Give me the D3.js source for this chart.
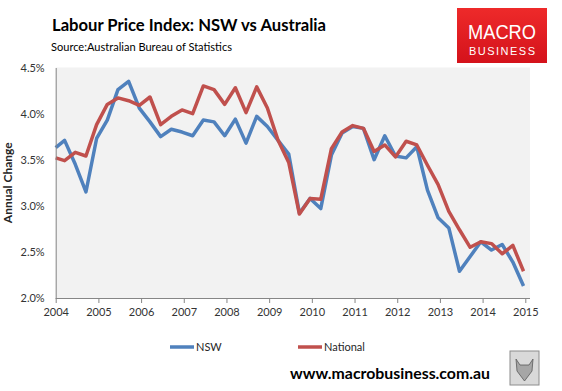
<!DOCTYPE html>
<html>
<head>
<meta charset="utf-8">
<script src="https://cdn.jsdelivr.net/npm/d3@7"></script>
<style>
  body { margin: 0; background: #fff; }
  svg { display: block; font-family: Lato, "Open Sans", sans-serif; }
</style>
</head>
<body>
<svg id="chart" width="562" height="391"></svg>
<script>
// quarterly observations, Dec 2003 to Dec 2014
const quarters = [
  "2003-12",
  "2004-03", "2004-06", "2004-09", "2004-12",
  "2005-03", "2005-06", "2005-09", "2005-12",
  "2006-03", "2006-06", "2006-09", "2006-12",
  "2007-03", "2007-06", "2007-09", "2007-12",
  "2008-03", "2008-06", "2008-09", "2008-12",
  "2009-03", "2009-06", "2009-09", "2009-12",
  "2010-03", "2010-06", "2010-09", "2010-12",
  "2011-03", "2011-06", "2011-09", "2011-12",
  "2012-03", "2012-06", "2012-09", "2012-12",
  "2013-03", "2013-06", "2013-09", "2013-12",
  "2014-03", "2014-06", "2014-09", "2014-12"
];

const nsw = [
  3.63,
  3.71, 3.45, 3.15, 3.73,
  3.93, 4.26, 4.35, 4.06,
  3.91, 3.75, 3.83, 3.80,
  3.76, 3.93, 3.91, 3.76,
  3.94, 3.68, 3.97, 3.86,
  3.71, 3.56, 2.92, 3.08,
  2.97, 3.55, 3.79, 3.86,
  3.84, 3.50, 3.76, 3.54,
  3.52, 3.64, 3.17, 2.87,
  2.76, 2.29, 2.45, 2.61,
  2.52, 2.58, 2.39, 2.13
];

const national = [
  3.52,
  3.49, 3.58, 3.54, 3.88,
  4.10, 4.17, 4.14, 4.09,
  4.18, 3.88, 3.97, 4.04,
  4.00, 4.30, 4.26, 4.10,
  4.28, 4.01, 4.29, 4.06,
  3.71, 3.47, 2.91, 3.08,
  3.07, 3.62, 3.80, 3.87,
  3.84, 3.59, 3.66, 3.53,
  3.70, 3.66, 3.44, 3.23,
  2.94, 2.74, 2.55, 2.61,
  2.59, 2.48, 2.57, 2.29
];

const years = [2004, 2005, 2006, 2007, 2008, 2009, 2010, 2011, 2012, 2013, 2014, 2015];
const yTicks = [2.0, 2.5, 3.0, 3.5, 4.0, 4.5];

const series = [
  { name: "NSW", values: nsw, color: "#4f81bd" },
  { name: "National", values: national, color: "#c0504d" }
];

const plot = { left: 55.7, right: 530, top: 67.5, bottom: 298 };

const svg = d3.select("#chart");

// quarter label -> decimal year at mid-month
const toYear = q => {
  const [y, m] = q.split("-").map(Number);
  return y + (m - 0.5) / 12;
};

const x = d3.scaleLinear()
  .domain([2004, 2015])
  .range([plot.left, 525.3])
  .clamp(true);

const y = d3.scaleLinear()
  .domain([2.0, 4.5])
  .range([plot.bottom, plot.top]);

// plot background
svg.append("rect")
  .attr("x", plot.left)
  .attr("y", plot.top)
  .attr("width", plot.right - plot.left)
  .attr("height", plot.bottom - plot.top)
  .attr("fill", "#f2f2f2");

// lines
const line = d3.line()
  .x((d, i) => x(toYear(quarters[i])))
  .y(d => y(d));

svg.append("g")
  .selectAll("path")
  .data(series)
  .join("path")
  .attr("d", d => line(d.values))
  .attr("fill", "none")
  .attr("stroke", d => d.color)
  .attr("stroke-width", 3.5)
  .attr("stroke-linejoin", "round");

// x axis
const xAxis = svg.append("g")
  .attr("transform", `translate(0,${plot.bottom})`)
  .call(d3.axisBottom(x).tickValues(years).tickFormat(d3.format("d")).tickSize(5).tickSizeOuter(0));
xAxis.select(".domain").attr("stroke", "#868686").attr("d", `M${plot.left},0.5H${plot.right}`);
xAxis.selectAll(".tick line").attr("stroke", "#868686");
xAxis.selectAll(".tick text")
  .attr("y", 10)
  .attr("font-size", 11)
  .attr("font-family", "Lato, sans-serif")
  .attr("fill", "#333");

// y axis
const yAxis = svg.append("g")
  .attr("transform", `translate(${plot.left},0)`)
  .call(d3.axisLeft(y).tickValues(yTicks).tickFormat(d => d.toFixed(1) + "%").tickSize(0).tickSizeOuter(0));
yAxis.select(".domain").attr("stroke", "#868686");
yAxis.selectAll(".tick text")
  .attr("x", -11)
  .attr("font-size", 11)
  .attr("font-family", "Lato, sans-serif")
  .attr("fill", "#333");

// y axis title
svg.append("text")
  .attr("transform", `translate(12,${(plot.top + plot.bottom) / 2}) rotate(-90)`)
  .attr("text-anchor", "middle")
  .attr("font-size", 12)
  .attr("font-weight", "bold")
  .attr("fill", "#262626")
  .text("Annual Change");

// title block
svg.append("text")
  .attr("x", 52)
  .attr("y", 31)
  .attr("font-size", 17)
  .attr("font-weight", "bold")
  .attr("fill", "#000")
  .attr("textLength", 274)
  .attr("lengthAdjust", "spacingAndGlyphs")
  .text("Labour Price Index: NSW vs Australia");

svg.append("text")
  .attr("x", 51)
  .attr("y", 51)
  .attr("font-size", 11)
  .attr("fill", "#000")
  .attr("textLength", 181)
  .attr("lengthAdjust", "spacingAndGlyphs")
  .text("Source:Australian Bureau of Statistics");

// logo
const defs = svg.append("defs");
const grad = defs.append("linearGradient")
  .attr("id", "logoGrad")
  .attr("x1", 0).attr("y1", 0).attr("x2", 0).attr("y2", 1);
grad.append("stop").attr("offset", "0%").attr("stop-color", "#ee2a2a");
grad.append("stop").attr("offset", "100%").attr("stop-color", "#d4121b");

const logo = svg.append("g").attr("transform", "translate(457,8)");
logo.append("rect")
  .attr("width", 90)
  .attr("height", 55)
  .attr("fill", "url(#logoGrad)");
logo.append("text")
  .attr("x", 45)
  .attr("y", 31)
  .attr("text-anchor", "middle")
  .attr("font-size", 20)
  .attr("font-family", "'Liberation Sans', Arial, sans-serif")
  .attr("fill", "#fff")
  .attr("textLength", 68)
  .attr("lengthAdjust", "spacingAndGlyphs")
  .text("MACRO");
logo.append("text")
  .attr("x", 45)
  .attr("y", 47)
  .attr("text-anchor", "middle")
  .attr("font-size", 11)
  .attr("font-family", "'Liberation Sans', Arial, sans-serif")
  .attr("fill", "#fff")
  .attr("textLength", 66)
  .attr("lengthAdjust", "spacing")
  .text("BUSINESS");

// legend
const legend = svg.append("g")
  .selectAll("g")
  .data(series)
  .join("g")
  .attr("transform", (d, i) => `translate(${170 + i * 128},347)`);
legend.append("line")
  .attr("x1", 0).attr("x2", 24)
  .attr("stroke", d => d.color)
  .attr("stroke-width", 3.5);
legend.append("text")
  .attr("x", 26)
  .attr("dy", "0.35em")
  .attr("font-size", 11)
  .attr("fill", "#262626")
  .text(d => d.name);

// website
svg.append("text")
  .attr("x", 290)
  .attr("y", 379)
  .attr("font-size", 15)
  .attr("font-weight", "bold")
  .attr("fill", "#000")
  .attr("textLength", 200)
  .attr("lengthAdjust", "spacingAndGlyphs")
  .text("www.macrobusiness.com.au");

// wolf badge placeholder
const badge = svg.append("g").attr("transform", "translate(510,351)");
badge.append("rect")
  .attr("width", 29)
  .attr("height", 34)
  .attr("fill", "#d9d9d9")
  .attr("stroke", "#8c8c8c")
  .attr("stroke-width", 1);
badge.append("path")
  .attr("d", "M6,8 L10,14 L19,14 L23,8 L22,20 L14.5,30 L7,20 Z")
  .attr("fill", "#a6a6a6")
  .attr("stroke", "#595959")
  .attr("stroke-width", 0.8);
</script>
</body>
</html>
